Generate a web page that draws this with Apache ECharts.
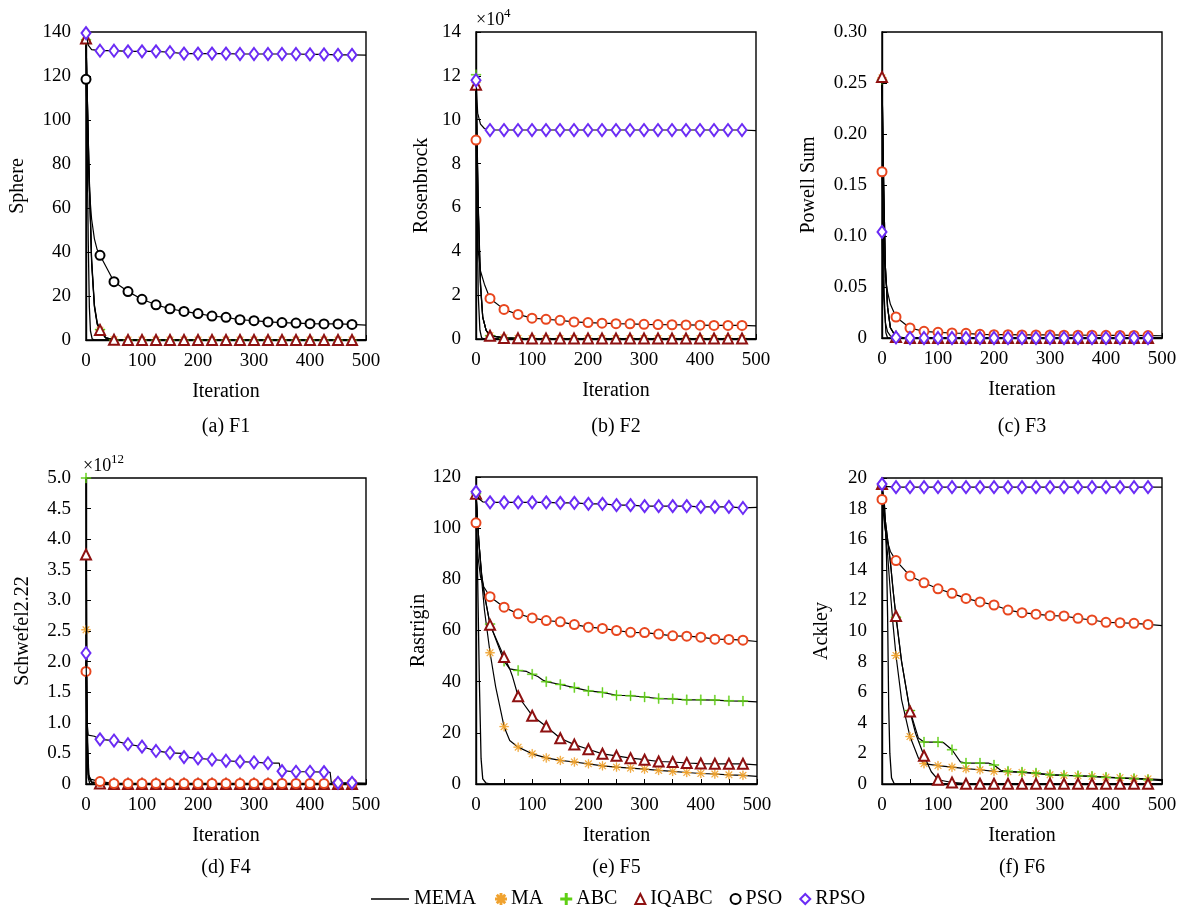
<!DOCTYPE html>
<html>
<head>
<meta charset="utf-8">
<script src="https://cdn.jsdelivr.net/npm/echarts@6/dist/echarts.min.js"></script>
<style>
  html, body { margin: 0; padding: 0; background: #fff; }
  #chart { width: 1185px; height: 907px; }
</style>
</head>
<body>
<div id="chart"></div>
<script>
// markers sit every 25 iterations
const ITER_MARKS = [0, 25, 50, 75, 100, 125, 150, 175, 200, 225, 250, 275, 300, 325, 350, 375, 400, 425, 450, 475];
const ALGOS = ['MEMA', 'MA', 'ABC', 'IQABC', 'PSO', 'RPSO'];
const PANEL_NAMES = ['Sphere', 'Rosenbrock', 'Powell Sum', 'Schwefel2.22', 'Rastrigin', 'Ackley'];
const CAPTIONS = ['(a) F1', '(b) F2', '(c) F3', '(d) F4', '(e) F5', '(f) F6'];
const Y_MAX = [140, 14, 0.30, 5.0, 120, 20];
const Y_STEP = [20, 2, 0.05, 0.5, 20, 2];

// ---- F1 Sphere ----
const f1_MEMA = [[0, 137], [2, 90], [4, 45], [6, 15], [8, 4], [11, 0.5], [15, 0], [500, 0]];
const f1_MA = [136, 4.5, 0.1, 0, 0, 0, 0, 0, 0, 0, 0, 0, 0, 0, 0, 0, 0, 0, 0, 0];
const f1_MA_x = [[5, 80], [10, 35], [15, 15], [20, 7], [35, 1], [500, 0]];
const f1_ABC = [136.5, 4.8, 0.1, 0, 0, 0, 0, 0, 0, 0, 0, 0, 0, 0, 0, 0, 0, 0, 0, 0];
const f1_ABC_x = [[5, 82], [10, 37], [15, 16], [20, 8], [35, 1.1], [500, 0]];
const f1_IQABC = [137, 4.6, 0.1, 0, 0, 0, 0, 0, 0, 0, 0, 0, 0, 0, 0, 0, 0, 0, 0, 0];
const f1_IQABC_x = [[5, 81], [10, 36], [15, 15.5], [20, 7.5], [35, 1], [500, 0]];
const f1_PSO = [118.5, 38.5, 26.5, 22, 18.5, 16, 14.2, 13, 12, 10.9, 10.3, 9.2, 8.8, 8.2, 7.9, 7.7, 7.4, 7.3, 7.3, 7.1];
const f1_PSO_x = [[3, 90], [6, 68], [10, 55], [15, 46], [20, 41], [500, 6.8]];
const f1_RPSO = [139.5, 131.5, 131.5, 131.2, 131.2, 131.2, 130.8, 130.2, 130.2, 130.2, 130.2, 130, 130, 130, 130, 130, 129.8, 129.8, 129.6, 129.6];
const f1_RPSO_x = [[4, 134], [10, 132], [500, 129.5]];

// ---- F2 Rosenbrock (x1e4) ----
const f2_MEMA = [[0, 11.8], [2, 6], [4, 2], [7, 0.4], [10, 0.05], [15, 0], [500, 0]];
const f2_MA = [11.7, 0.15, 0.05, 0.03, 0.02, 0.02, 0.02, 0.02, 0.02, 0.02, 0.02, 0.02, 0.02, 0.02, 0.02, 0.02, 0.02, 0.02, 0.02, 0.02];
const f2_MA_x = [[4, 6], [8, 2.5], [12, 1], [18, 0.4], [500, 0.02]];
const f2_ABC = [12.05, 0.15, 0.05, 0.03, 0.02, 0.02, 0.02, 0.02, 0.02, 0.02, 0.02, 0.02, 0.02, 0.02, 0.02, 0.02, 0.02, 0.02, 0.02, 0.02];
const f2_ABC_x = [[4, 6.2], [8, 2.6], [12, 1], [18, 0.4], [500, 0.02]];
const f2_IQABC = [11.6, 0.15, 0.05, 0.03, 0.02, 0.02, 0.02, 0.02, 0.02, 0.02, 0.02, 0.02, 0.02, 0.02, 0.02, 0.02, 0.02, 0.02, 0.02, 0.02];
const f2_IQABC_x = [[4, 5.9], [8, 2.4], [12, 1], [18, 0.4], [500, 0.02]];
const f2_PSO = [9.07, 1.85, 1.35, 1.12, 0.95, 0.9, 0.85, 0.78, 0.75, 0.72, 0.7, 0.69, 0.67, 0.66, 0.65, 0.64, 0.63, 0.62, 0.62, 0.62];
const f2_PSO_x = [[2, 5.5], [4, 4], [8, 3.1], [15, 2.5], [500, 0.6]];
const f2_RPSO = [11.8, 9.53, 9.53, 9.53, 9.53, 9.53, 9.53, 9.53, 9.53, 9.53, 9.53, 9.53, 9.53, 9.53, 9.53, 9.53, 9.53, 9.53, 9.53, 9.53];
const f2_RPSO_x = [[3, 10.3], [8, 9.8], [15, 9.6], [500, 9.5]];

// ---- F3 Powell Sum ----
const f3_MEMA = [[0, 0.255], [2, 0.12], [4, 0.04], [7, 0.005], [10, 0], [500, 0]];
const f3_MA = [0.255, 0.001, 0, 0, 0, 0, 0, 0, 0, 0, 0, 0, 0, 0, 0, 0, 0, 0, 0, 0];
const f3_MA_x = [[3, 0.15], [6, 0.07], [10, 0.03], [15, 0.01], [500, 0]];
const f3_ABC = [0.253, 0.001, 0, 0, 0, 0, 0, 0, 0, 0, 0, 0, 0, 0, 0, 0, 0, 0, 0, 0];
const f3_ABC_x = [[3, 0.15], [6, 0.07], [10, 0.03], [15, 0.01], [500, 0]];
const f3_IQABC = [0.256, 0.001, 0, 0, 0, 0, 0, 0, 0, 0, 0, 0, 0, 0, 0, 0, 0, 0, 0, 0];
const f3_IQABC_x = [[3, 0.15], [6, 0.07], [10, 0.03], [15, 0.01], [500, 0]];
const f3_PSO = [0.163, 0.0206, 0.0098, 0.0065, 0.0056, 0.0049, 0.0046, 0.0036, 0.0033, 0.0033, 0.003, 0.003, 0.003, 0.0028, 0.0028, 0.0027, 0.0026, 0.0025, 0.0025, 0.0024];
const f3_PSO_x = [[3, 0.09], [6, 0.06], [10, 0.045], [15, 0.033], [500, 0.0022]];
const f3_RPSO = [0.104, 0.0005, 0, 0, 0, 0, 0, 0, 0, 0, 0, 0, 0, 0, 0, 0, 0, 0, 0, 0];
const f3_RPSO_x = [[3, 0.04], [6, 0.015], [10, 0.006], [15, 0.002], [500, 0]];

// ---- F4 Schwefel2.22 (x1e12) ----
const f4_MEMA = [[0, 2.0], [2, 0.5], [4, 0.1], [7, 0], [500, 0]];
const f4_MA = [2.52, 0.01, 0, 0, 0, 0, 0, 0, 0, 0, 0, 0, 0, 0, 0, 0, 0, 0, 0, 0];
const f4_MA_x = [[2, 0.5], [5, 0.1], [10, 0.03], [500, 0]];
const f4_ABC = [5.0, 0.01, 0, 0, 0, 0, 0, 0, 0, 0, 0, 0, 0, 0, 0, 0, 0, 0, 0, 0];
const f4_ABC_x = [[2, 1.0], [5, 0.15], [10, 0.03], [500, 0]];
const f4_IQABC = [3.75, 0.01, 0, 0, 0, 0, 0, 0, 0, 0, 0, 0, 0, 0, 0, 0, 0, 0, 0, 0];
const f4_IQABC_x = [[2, 0.8], [5, 0.12], [10, 0.03], [500, 0]];
const f4_PSO = [1.84, 0.04, 0.01, 0.01, 0.01, 0.01, 0.01, 0.01, 0.01, 0.01, 0.01, 0.01, 0.01, 0.01, 0.01, 0.01, 0.01, 0.01, 0.01, 0.01];
const f4_PSO_x = [[2, 0.5], [4, 0.15], [8, 0.08], [500, 0.01]];
const f4_RPSO = [2.14, 0.73, 0.71, 0.65, 0.61, 0.54, 0.51, 0.44, 0.42, 0.4, 0.38, 0.365, 0.355, 0.34, 0.21, 0.2, 0.2, 0.195, 0.02, 0.02];
const f4_RPSO_x = [[2, 1.0], [4, 0.8], [15, 0.78], [172, 0.5], [176, 0.44], [345, 0.34], [348, 0.22], [436, 0.19], [438, 0.03], [500, 0.01]];

// ---- F5 Rastrigin ----
const f5_MEMA = [[0, 113], [3, 80], [6, 40], [9, 10], [12, 2], [18, 0.3], [25, 0], [500, 0]];
const f5_MA = [113.5, 51.3, 22.4, 14.4, 11.8, 10.2, 9.2, 8.6, 7.9, 7.1, 6.6, 6.2, 5.8, 5.3, 4.9, 4.5, 4.1, 3.9, 3.6, 3.4];
const f5_MA_x = [[5, 95], [10, 80], [15, 68], [35, 38], [60, 17], [500, 3.0]];
const f5_ABC = [113.5, 62.5, 48, 44.4, 42.9, 40, 38.9, 37.7, 36.4, 35.8, 34.7, 34.5, 34, 33.4, 33.3, 32.9, 32.9, 32.8, 32.5, 32.4];
const f5_ABC_x = [[5, 95], [10, 82], [15, 74], [60, 45], [90, 44], [110, 42], [120, 40.5], [500, 32.1]];
const f5_IQABC = [113.5, 62.2, 49.6, 34.3, 26.7, 22.5, 17.9, 15.4, 13.6, 11.8, 11, 10.1, 9.5, 8.8, 8.6, 8.2, 8, 7.9, 7.9, 7.9];
const f5_IQABC_x = [[5, 95], [10, 82], [15, 74], [60, 45], [65, 42], [500, 7.5]];
const f5_PSO = [102.1, 73.2, 69.1, 66.5, 64.9, 63.9, 63.4, 62.3, 61.3, 60.8, 60, 59.3, 59.2, 58.6, 57.9, 57.8, 57.4, 56.6, 56.5, 56.2];
const f5_PSO_x = [[4, 88], [8, 81], [14, 77], [500, 55.7]];
const f5_RPSO = [114.2, 110.1, 110.1, 110.1, 110.1, 110.1, 109.9, 109.9, 109.5, 109.5, 109, 109, 108.6, 108.6, 108.6, 108.6, 108.3, 108.3, 108.3, 107.9];
const f5_RPSO_x = [[5, 111.5], [12, 110.3], [500, 108.1]];

// ---- F6 Ackley ----
const f6_MEMA = [[0, 19.5], [5, 18], [8, 15], [10, 11], [12, 5], [14, 2], [17, 0.4], [22, 0], [500, 0]];
const f6_MA = [19.5, 8.4, 3.1, 1.33, 1.2, 1.1, 1.0, 0.93, 0.83, 0.8, 0.76, 0.67, 0.6, 0.56, 0.54, 0.5, 0.45, 0.41, 0.37, 0.33];
const f6_MA_x = [[5, 17], [10, 15], [15, 12.5], [20, 10.3], [35, 5.5], [65, 1.7], [500, 0.28]];
const f6_ABC = [19.5, 10.9, 4.8, 2.74, 2.74, 2.24, 1.37, 1.37, 1.24, 0.83, 0.78, 0.72, 0.61, 0.57, 0.54, 0.5, 0.43, 0.39, 0.35, 0.28];
const f6_ABC_x = [[5, 17.5], [10, 16], [15, 14.5], [20, 12.6], [35, 8], [65, 3], [110, 2.7], [140, 1.45], [190, 1.37], [212, 0.9], [500, 0.22]];
const f6_IQABC = [19.6, 10.98, 4.74, 1.85, 0.28, 0.1, 0.02, 0.02, 0.02, 0.02, 0.02, 0.02, 0.02, 0.02, 0.02, 0.02, 0.02, 0.02, 0.02, 0.02];
const f6_IQABC_x = [[5, 17.5], [10, 16], [15, 14.5], [20, 12.6], [35, 8], [60, 3.3], [88, 0.8], [500, 0.02]];
const f6_PSO = [18.6, 14.6, 13.6, 13.15, 12.76, 12.46, 12.13, 11.9, 11.7, 11.37, 11.2, 11.1, 11.0, 10.98, 10.83, 10.72, 10.57, 10.54, 10.5, 10.43];
const f6_PSO_x = [[5, 16.8], [10, 15.8], [15, 15.2], [500, 10.35]];
const f6_RPSO = [19.6, 19.4, 19.4, 19.4, 19.4, 19.4, 19.4, 19.4, 19.4, 19.4, 19.4, 19.4, 19.4, 19.4, 19.4, 19.4, 19.4, 19.4, 19.4, 19.4];
const f6_RPSO_x = [[5, 19.45], [500, 19.4]];

const PANELS = [
  { MEMA: f1_MEMA, MA: [f1_MA, f1_MA_x], ABC: [f1_ABC, f1_ABC_x], IQABC: [f1_IQABC, f1_IQABC_x], PSO: [f1_PSO, f1_PSO_x], RPSO: [f1_RPSO, f1_RPSO_x] },
  { MEMA: f2_MEMA, MA: [f2_MA, f2_MA_x], ABC: [f2_ABC, f2_ABC_x], IQABC: [f2_IQABC, f2_IQABC_x], PSO: [f2_PSO, f2_PSO_x], RPSO: [f2_RPSO, f2_RPSO_x] },
  { MEMA: f3_MEMA, MA: [f3_MA, f3_MA_x], ABC: [f3_ABC, f3_ABC_x], IQABC: [f3_IQABC, f3_IQABC_x], PSO: [f3_PSO, f3_PSO_x], RPSO: [f3_RPSO, f3_RPSO_x] },
  { MEMA: f4_MEMA, MA: [f4_MA, f4_MA_x], ABC: [f4_ABC, f4_ABC_x], IQABC: [f4_IQABC, f4_IQABC_x], PSO: [f4_PSO, f4_PSO_x], RPSO: [f4_RPSO, f4_RPSO_x] },
  { MEMA: f5_MEMA, MA: [f5_MA, f5_MA_x], ABC: [f5_ABC, f5_ABC_x], IQABC: [f5_IQABC, f5_IQABC_x], PSO: [f5_PSO, f5_PSO_x], RPSO: [f5_RPSO, f5_RPSO_x] },
  { MEMA: f6_MEMA, MA: [f6_MA, f6_MA_x], ABC: [f6_ABC, f6_ABC_x], IQABC: [f6_IQABC, f6_IQABC_x], PSO: [f6_PSO, f6_PSO_x], RPSO: [f6_RPSO, f6_RPSO_x] }
];

// ---- styling ----
const FONT = "'Liberation Serif', 'Times New Roman', serif";
const COLORS = { MEMA: '#000', MA: '#f0a22e', ABC: '#5fcf14', IQABC: '#8e1111', PSO: '#e8461e', RPSO: '#6b2cf5' };
const PSO_F1_COLOR = '#000';

function barsPath(angles, half, w) {
  let d = '';
  angles.forEach((deg) => {
    const a = deg * Math.PI / 180;
    const c = Math.cos(a), s = Math.sin(a);
    const pts = [[-half, -w], [half, -w], [half, w], [-half, w]].map(([x, y]) =>
      [(10 + x * c - y * s).toFixed(2), (10 + x * s + y * c).toFixed(2)]);
    d += 'M' + pts.map((p) => p.join(',')).join('L') + 'Z';
  });
  return 'path://' + d;
}
const STAR = barsPath([0, 45, 90, 135], 10, 0.9);
const PLUS = barsPath([0, 90], 10, 1.0);
const SYMBOLS = { MA: STAR, ABC: PLUS, IQABC: 'emptyTriangle', PSO: 'emptyCircle', RPSO: 'emptyDiamond' };
const SIZES = { MA: 9, ABC: 10, IQABC: 10, PSO: 9, RPSO: [9, 12] };
const BORDERS = { MEMA: 0, MA: 0.4, ABC: 0.4, IQABC: 1.3, PSO: 1.3, RPSO: 1.3 };

// plot boxes [left, top, width, height]
const BOXES = [
  [86, 32, 280, 308], [476, 32, 280, 307], [882, 32, 280, 306],
  [86, 478, 280, 306], [476, 477, 281, 307], [882, 478, 280, 306]
];
const NAME_GAPS = [58, 44, 63, 53, 44, 50];

function mergeLine(marks, extra) {
  return ITER_MARKS.map((x, i) => [x, marks[i]]).concat(extra).sort((a, b) => a[0] - b[0]);
}

const grids = [], xAxes = [], yAxes = [], series = [], graphics = [];
BOXES.forEach((b, i) => {
  grids.push({ left: b[0], top: b[1], width: b[2], height: b[3], show: true, borderColor: '#000', borderWidth: 1.4, backgroundColor: 'transparent' });
  xAxes.push({
    type: 'value', gridIndex: i, min: 0, max: 500, interval: 100,
    name: 'Iteration', nameLocation: 'middle', nameGap: 42,
    nameTextStyle: { fontFamily: FONT, fontSize: 20, color: '#000' },
    axisLine: { lineStyle: { color: '#000', width: 1.4 } },
    axisTick: { inside: true, length: 5, lineStyle: { color: '#000' } },
    minorTick: { show: true, splitNumber: 2, length: 5, lineStyle: { color: '#000' } },
    splitLine: { show: false },
    axisLabel: { fontFamily: FONT, fontSize: 19, color: '#000', margin: 12 }
  });
  yAxes.push({
    type: 'value', gridIndex: i, min: 0, max: Y_MAX[i], interval: Y_STEP[i],
    name: PANEL_NAMES[i], nameLocation: 'middle', nameRotate: 90, nameGap: NAME_GAPS[i],
    nameTextStyle: { fontFamily: FONT, fontSize: 20, color: '#000' },
    axisLine: { lineStyle: { color: '#000', width: 1.4 } },
    axisTick: { inside: true, length: 5, lineStyle: { color: '#000' } },
    splitLine: { show: false },
    axisLabel: {
      fontFamily: FONT, fontSize: 19, color: '#000', margin: 15,
      formatter: (v) => {
        if (v === 0) return '0';
        if (i === 2) return v.toFixed(2);
        if (i === 3) return v.toFixed(1);
        return String(Math.round(v));
      }
    }
  });
  graphics.push({
    type: 'text', x: b[0] + b[2] / 2, y: i < 3 ? 427 : 868,
    style: { text: CAPTIONS[i], font: '20px ' + FONT, fill: '#000', align: 'center', verticalAlign: 'middle' }
  });

  const p = PANELS[i];
  ALGOS.forEach((algo) => {
    const isMEMA = algo === 'MEMA';
    const color = (algo === 'PSO' && i === 0) ? PSO_F1_COLOR : COLORS[algo];
    const data = isMEMA ? p.MEMA : mergeLine(p[algo][0], p[algo][1]);
    const sym = SYMBOLS[algo];
    series.push({
      type: 'line', name: algo, xAxisIndex: i, yAxisIndex: i, data: data,
      symbol: isMEMA ? 'none' : (v) => (v[0] % 25 === 0 && v[0] < 500 ? sym : 'none'),
      symbolSize: SIZES[algo] || 8,
      showAllSymbol: true,
      lineStyle: { color: '#000', width: isMEMA ? 1.3 : 1.2 },
      itemStyle: { color: color, borderColor: color, borderWidth: BORDERS[algo] },
      z: 2 + ALGOS.indexOf(algo),
      animation: false,
      emphasis: { disabled: true }
    });
  });
});

// exponent labels
graphics.push(
  { type: 'text', x: 476, y: 20, style: { text: '×10', font: '18px ' + FONT, fill: '#000', align: 'left', verticalAlign: 'middle' } },
  { type: 'text', x: 504, y: 14, style: { text: '4', font: '13px ' + FONT, fill: '#000', align: 'left', verticalAlign: 'middle' } },
  { type: 'text', x: 83, y: 466, style: { text: '×10', font: '18px ' + FONT, fill: '#000', align: 'left', verticalAlign: 'middle' } },
  { type: 'text', x: 111, y: 460, style: { text: '12', font: '13px ' + FONT, fill: '#000', align: 'left', verticalAlign: 'middle' } }
);

const legendText = { fontFamily: FONT, fontSize: 20, color: '#000' };
const chart = echarts.init(document.getElementById('chart'), null, { renderer: 'canvas' });
chart.setOption({
  animation: false,
  backgroundColor: '#fff',
  grid: grids,
  xAxis: xAxes,
  yAxis: yAxes,
  series: series,
  graphic: graphics,
  legend: [
    {
      left: 366, top: 884, itemWidth: 38, itemHeight: 12, textStyle: legendText, selectedMode: false,
      data: [{ name: 'MEMA', icon: 'path://M0,0L40,0L40,1.7L0,1.7Z', itemStyle: { color: '#000', borderWidth: 0 } }]
    },
    {
      left: 490, top: 884, itemWidth: 10, itemHeight: 10, itemGap: 17, textStyle: legendText, selectedMode: false,
      data: [
        { name: 'MA', icon: STAR },
        { name: 'ABC', icon: PLUS },
        { name: 'IQABC', icon: 'emptyTriangle' },
        { name: 'PSO', icon: 'emptyCircle' },
        { name: 'RPSO', icon: 'emptyDiamond' }
      ]
    }
  ]
});
</script>
</body>
</html>
